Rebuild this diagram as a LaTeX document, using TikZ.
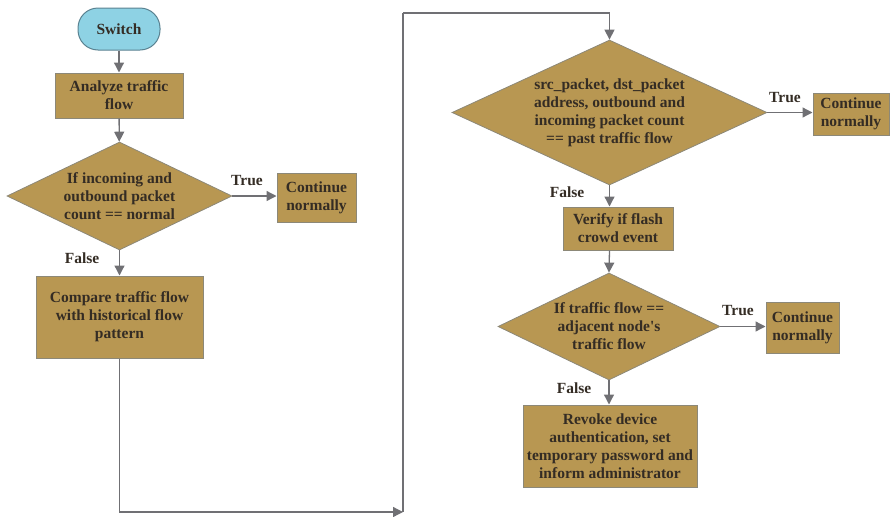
\documentclass[tikz,border=0pt]{standalone}
\usepackage{fontspec}
\setmainfont{Liberation Serif}
\usetikzlibrary{shapes.geometric,arrows.meta}
\definecolor{gold}{RGB}{184,151,82}
\definecolor{boxline}{RGB}{140,136,120}
\definecolor{ink}{RGB}{52,44,36}
\definecolor{wire}{RGB}{112,112,116}
\definecolor{sky}{RGB}{142,210,228}
\definecolor{skyline}{RGB}{90,130,145}
\begin{document}
\begin{tikzpicture}[x=1pt,y=-1pt,
  txt/.style={text=ink,font=\bfseries\fontsize{15.5}{18}\selectfont,align=center},
  proc/.style={txt,draw=boxline,line width=1pt,fill=gold,inner sep=0pt},
  decision/.style={txt,diamond,draw=boxline,line width=0.8pt,fill=gold,inner sep=-45pt},
  startbox/.style={txt,draw=skyline,line width=1pt,fill=sky,rounded corners=20pt,inner sep=0pt},
  flow/.style={draw=wire,line width=1.3pt,-{Triangle[length=10pt,width=10pt]}},
  plain/.style={draw=wire,line width=1.3pt},
  lbl/.style={text=ink,font=\bfseries\fontsize{15.5}{18}\selectfont}]
\useasboundingbox (0,0) rectangle (895,517);

% left column
\node[startbox,minimum width=82pt,minimum height=42pt] (switch) at (119,29) {Switch};
\node[proc,minimum width=128pt,minimum height=45pt] (analyze) at (119,95.5) {Analyze traffic\\flow};
\node[decision,minimum width=225pt,minimum height=108pt] (d1) at (119.5,196) {If incoming and\\outbound packet\\count == normal};
\node[proc,minimum width=79pt,minimum height=49pt] (c1) at (316.5,197.5) {Continue\\normally};
\node[proc,minimum width=167pt,minimum height=82pt] (compare) at (119.5,317) {Compare traffic flow\\with historical flow\\pattern};

% right column
\node[decision,minimum width=315pt,minimum height=145pt] (d2) at (609.5,112.5) {src\_packet, dst\_packet\\address, outbound and\\incoming packet count\\== past traffic flow};
\node[proc,minimum width=76pt,minimum height=42pt] (c2) at (851,114) {Continue\\normally};
\node[proc,minimum width=110pt,minimum height=43pt] (verify) at (618,228.5) {Verify if flash\\crowd event};
\node[decision,minimum width=222pt,minimum height=107pt] (d3) at (609,326.5) {If traffic flow ==\\adjacent node\textquotesingle s\\traffic flow};
\node[proc,minimum width=73pt,minimum height=51pt] (c3) at (802.5,327.5) {Continue\\normally};
\node[proc,minimum width=174pt,minimum height=82pt] (revoke) at (610,446) {Revoke device\\authentication, set\\temporary password and\\inform administrator};

% routing points of the long connector
\coordinate (turn) at (403,512);
\coordinate (rise) at (403,13);

% connectors
\draw[flow] (switch) -- (analyze);
\draw[flow] (analyze) -- (d1);
\draw[flow] (d1.east) -- (c1.west |- d1.east);
\draw[flow] (d1) -- (compare);
\draw[flow] (compare.south) |- (turn);
\draw[plain] (turn) -- (rise);
\draw[flow] (rise) -| (d2.north);
\draw[flow] (d2.east) -- (c2.west |- d2.east);
\draw[flow] (d2.south) -- (d2.south |- verify.north);
\draw[flow] (d2.south |- verify.south) -- (d3.north);
\draw[flow] (d3.east) -- (c3.west |- d3.east);
\draw[flow] (d3.south) -- (d3.south |- revoke.north);

% branch labels
\node[lbl] (t1) at (247,181) {True};
\node[lbl] (f1) at (82,258) {False};
\node[lbl] (t2) at (785,98) {True};
\node[lbl] (f2) at (567,192) {False};
\node[lbl] (t3) at (738,311) {True};
\node[lbl] (f3) at (574,388) {False};
\end{tikzpicture}
\end{document}
